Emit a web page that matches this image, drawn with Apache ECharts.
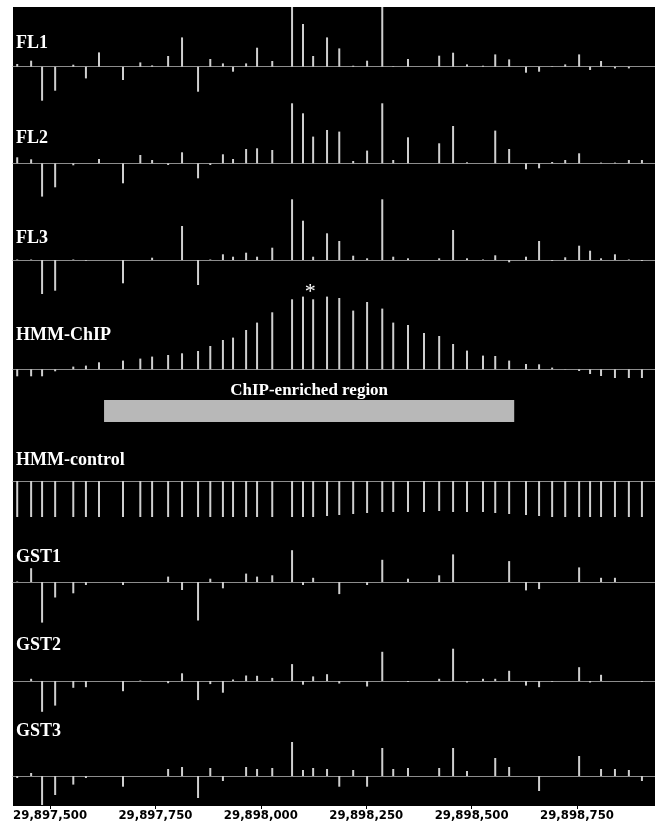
<!DOCTYPE html>
<html><head><meta charset="utf-8">
<script src="https://cdn.jsdelivr.net/npm/echarts@6/dist/echarts.min.js"></script>
<style>html,body{margin:0;padding:0;background:#fff}#c{width:655px;height:825px}</style>
</head><body><div id="c"></div>
<script>
// genomic probe positions (bp)
const positions = [29897422,29897455,29897481,29897512,29897555,29897585,29897616,29897673,29897714,29897742,29897780,29897813,29897851,29897880,29897910,29897934,29897965,29897991,29898027,29898074,29898100,29898124,29898157,29898186,29898219,29898252,29898288,29898314,29898349,29898387,29898423,29898456,29898489,29898527,29898556,29898589,29898629,29898660,29898691,29898722,29898755,29898781,29898807,29898840,29898873,29898904];
const fl1 = [2.7,6,-34,-24,2,-11.7,14.3,-13.3,4.3,1.3,10.7,29.3,-25,7.7,3.3,-5,3.3,19,5.7,62,42.7,10.7,29.3,18.3,1,6,62,0.5,7.7,0,11,14,2.3,1,12.3,7.3,-6,-5,0.5,2.3,12.3,-3.3,5.7,-1.7,-1.7,0];
const fl2 = [6,4,-33.3,-24,-2,0,4.3,-20,8.3,3.3,-1.7,11,-15,-1.7,9,4.3,14.3,15,13.3,60,50,26.7,33.3,31.7,2.3,12.7,60,3.3,26,0,20,37.3,1,0,32.7,14.3,-6,-5,1.3,3.3,10,0,0.7,0.7,3.3,3.3];
const fl3 = [0.5,0.5,-34,-30.7,0.5,-0.7,0,-23.3,0,2.3,0,34,-25,0.5,5.7,3.3,7.3,3.3,12.3,60.7,39.3,3.3,26.7,19,4.3,1.7,60.7,3.3,1.7,0,1.7,30,1.7,0.5,4.7,-2.3,3.3,19,-1,2.7,14.3,9.3,1.7,5.7,0.5,-1];
const hmmChip = [-7,-7,-7,-2,2.7,3.7,7,8.7,10.7,12.7,14.3,16,18.3,23.3,29.3,31.7,39.3,46.7,57,70,72.7,70,72.7,71.3,58.7,67.3,60.7,46.7,44.3,36.3,33.3,25.3,18.7,13.7,13.3,8.7,5.3,5,1.7,0.3,-1.7,-4.7,-6.7,-8.7,-8.7,-8.7];
const hmmControl = [-36,-36,-36,-36,-36,-36,-36,-36,-36,-36,-36,-36,-36,-36,-36,-36,-36,-36,-36,-36,-36,-36,-35,-34,-33,-32,-31,-31,-31,-31,-30,-31,-31,-31,-32,-33,-34,-35,-36,-36,-36,-36,-36,-36,-36,-36];
const gst1 = [0.5,13.8,-40.6,-15.5,-11.3,-3,0,-3,0,0,5.4,-8,-38.5,3.3,-6.3,0,8.4,5.4,6.7,31.8,-3,4.2,0,-12.1,0,-3,22.2,0,3.3,0,6.7,27.6,0,0,0,20.9,-8.4,-7.1,0,0,14.6,0,4.2,4.2,0,0];
const gst2 = [0,2.2,-30.8,-24.6,-6.8,-6.2,0,-10.2,0.5,0,-2.2,7.7,-19.1,-3.1,-11.7,1.5,5.5,5.2,3.1,16.9,-3.7,4.6,6.8,-2.5,0,-5.5,29.2,0,-1,0,2.2,32.3,-1.5,2.2,2.2,10.2,-4.6,-6.2,-0.8,0,13.8,-1.5,6.2,0,0,-0.8];
const gst3 = [-2,3,-29,-19,-8.6,-2,0,-10.7,0,0,7,9,-22,8,-5,0,9,7,8,34,6,8,7,-10.7,6,-10.7,28,7,8,0,8,28,5,0,18,9,0,-15,0,0,20,0,7,7,6,-5];
const trackNames = ['FL1','FL2','FL3','HMM-ChIP','HMM-control','GST1','GST2','GST3'];
const regionLabel = 'ChIP-enriched region';
const regionStart = [29897628];
const regionEnd = [29898601];
const peakMarker = '*';
const peakIndex = 21;
const rulerTicks = [29897500,29897750,29898000,29898250,29898500,29898750];
const xMin = 29897412, xMax = 29898935;

const trackValues = [fl1, fl2, fl3, hmmChip, hmmControl, gst1, gst2, gst3];
// layout: label centre y, grid top, baseline y, grid bottom (px)
const layout = [
  {label: 43, top: 7, base: 66.7, bottom: 102},
  {label: 138, top: 103, base: 163.3, bottom: 198},
  {label: 238, top: 199, base: 260, bottom: 296},
  {label: 335, top: 290, base: 369.3, bottom: 381},
  {label: 460, top: 481, base: 481, bottom: 520},
  {label: 557, top: 535, base: 582, bottom: 628},
  {label: 645, top: 635, base: 681, bottom: 725},
  {label: 731, top: 735, base: 776, bottom: 806}
];
const L = 13;
const barColor = '#cfcfcf', baseColor = '#8c8c8c';

const grids = [], xAxes = [], yAxes = [], series = [], graphics = [];
grids.push({left: L, right: 0, top: 7, bottom: 19, show: true, backgroundColor: '#000', borderWidth: 0});
xAxes.push({gridIndex: 0, type: 'value', min: xMin, max: xMax, position: 'bottom',
  axisLine: {show: false}, splitLine: {show: false},
  axisTick: {show: true, customValues: rulerTicks, length: 3, lineStyle: {color: '#000'}},
  axisLabel: {show: true, customValues: rulerTicks, color: '#000', margin: 3, fontWeight: 'bold',
    fontFamily: '"Liberation Sans Narrow","DejaVu Sans Condensed",sans-serif', fontSize: 13,
    formatter: v => v.toLocaleString('en-US')}});
yAxes.push({gridIndex: 0, type: 'value', min: 0, max: 1, show: false});
series.push({type: 'bar', xAxisIndex: 0, yAxisIndex: 0, data: [], silent: true});

trackValues.forEach((vals, i) => {
  const g = layout[i];
  const gi = grids.length;
  grids.push({left: L, right: 0, top: g.top, height: g.bottom - g.top, show: false});
  xAxes.push({gridIndex: gi, type: 'value', min: xMin, max: xMax,
    axisLine: {show: true, onZero: true, lineStyle: {color: baseColor, width: 1}},
    axisTick: {show: false}, axisLabel: {show: false}, splitLine: {show: false}});
  yAxes.push({gridIndex: gi, type: 'value', min: g.base - g.bottom, max: g.base - g.top, show: false,
    axisLine: {show: false}, splitLine: {show: false}});
  series.push({type: 'bar', xAxisIndex: gi, yAxisIndex: gi, barWidth: 2, silent: true,
    itemStyle: {color: barColor},
    data: positions.map((p, j) => {
      const item = {value: [p, vals[j]]};
      if (i === 3 && j === peakIndex) item.label = {show: true, position: 'top', formatter: peakMarker, color: '#fff', fontSize: 22, distance: -4, offset: [-3, 0], fontFamily: '"Liberation Serif",serif'};
      return item;
    })});
  graphics.push({type: 'text', x: 16, y: g.label, z: 10, style: {text: trackNames[i], fill: '#fff',
    font: 'bold 18px "Liberation Serif", serif', verticalAlign: 'middle', textVerticalAlign: 'middle'}});
});

const rg = grids.length;
grids.push({left: L, right: 0, top: 400, height: 22, show: false});
xAxes.push({gridIndex: rg, type: 'value', min: xMin, max: xMax, show: false});
yAxes.push({gridIndex: rg, type: 'value', min: 0, max: 1, show: false});
series.push({type: 'custom', xAxisIndex: rg, yAxisIndex: rg, silent: true,
  encode: {x: [0, 1]},
  data: regionStart.map((s, k) => [s, regionEnd[k]]),
  renderItem: (params, api) => {
    const a = api.coord([api.value(0), 1]);
    const b = api.coord([api.value(1), 0]);
    return {type: 'group', children: [
      {type: 'rect', shape: {x: a[0], y: a[1], width: b[0] - a[0], height: b[1] - a[1]}, style: {fill: '#b8b8b8'}},
      {type: 'text', x: (a[0] + b[0]) / 2, y: a[1] - 9, style: {text: regionLabel, fill: '#fff',
        font: 'bold 17px "Liberation Serif", serif', align: 'center', verticalAlign: 'middle'}}
    ]};
  }});

const chart = echarts.init(document.getElementById('c'));
chart.setOption({animation: false, backgroundColor: '#fff', grid: grids, xAxis: xAxes, yAxis: yAxes, series: series, graphic: graphics});
</script></body></html>
